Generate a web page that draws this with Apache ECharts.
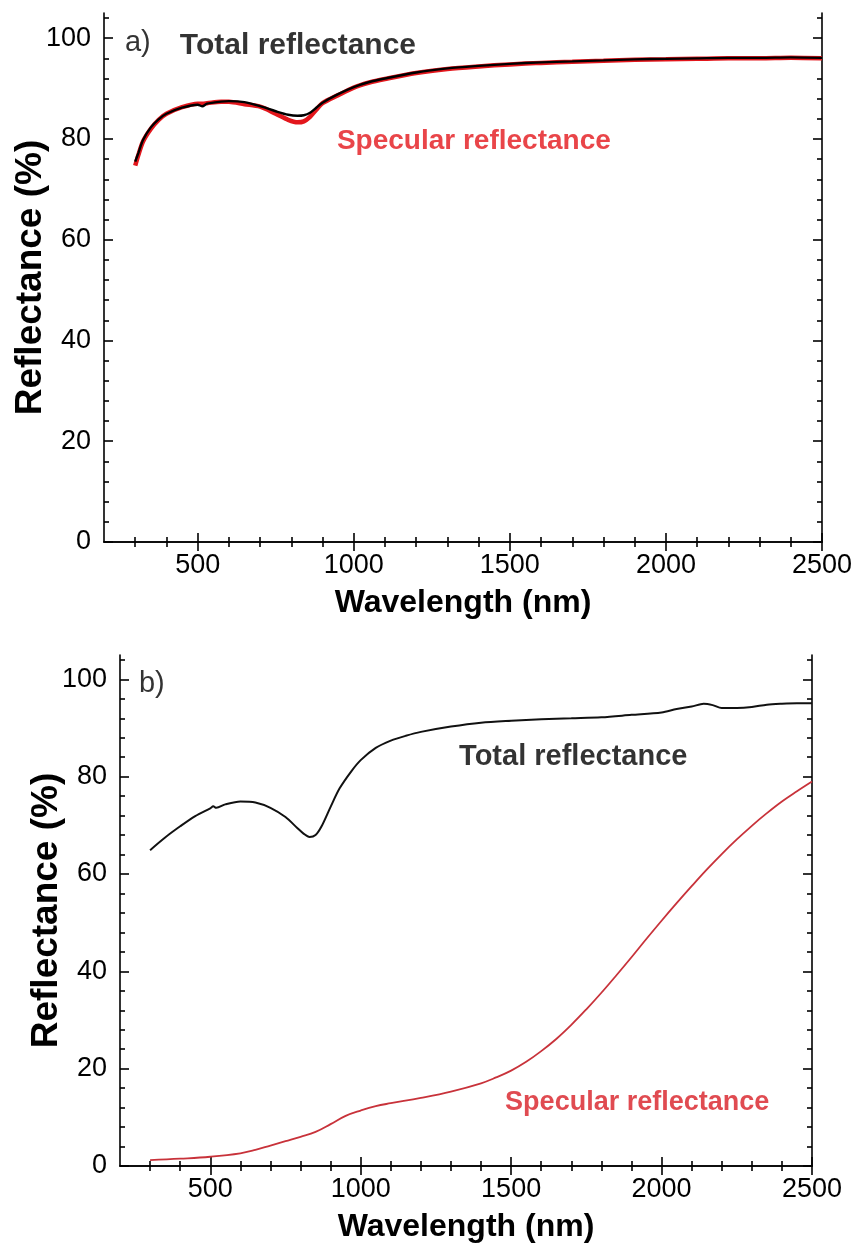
<!DOCTYPE html>
<html><head><meta charset="utf-8">
<script src="https://cdn.jsdelivr.net/npm/echarts@6/dist/echarts.min.js"></script>
<style>html,body{margin:0;padding:0;background:#fff}#c{width:857px;height:1243px}</style>
</head><body><div id="c"></div><script>
// ---- tick values ----
const xMajorTicks = [500, 1000, 1500, 2000, 2500];
const xMinorTicks = [300, 400, 600, 700, 800, 900, 1100, 1200, 1300, 1400, 1600, 1700, 1800, 1900, 2100, 2200, 2300, 2400];
const yMajorTicks = [0, 20, 40, 60, 80, 100];
const yMinorTicks = [4, 8, 12, 16, 24, 28, 32, 36, 44, 48, 52, 56, 64, 68, 72, 76, 84, 88, 92, 96, 104];

// ---- panel a) ----
const wavelengthA = [300, 310, 325, 350, 375, 400, 450, 500, 515, 530, 575, 600, 650, 700, 750, 790, 820, 840, 860, 880, 900, 950, 1000, 1050, 1100, 1200, 1300, 1400, 1500, 1600, 1700, 1800, 1900, 2000, 2100, 2200, 2300, 2400, 2500];
const totalA = [75.5, 77.2, 79.8, 82.3, 83.9, 85.0, 86.2, 86.8, 86.5, 87.0, 87.4, 87.5, 87.3, 86.5, 85.5, 84.8, 84.6, 84.7, 85.2, 86.2, 87.2, 88.9, 90.3, 91.3, 92.0, 93.2, 94.0, 94.5, 94.9, 95.2, 95.4, 95.6, 95.8, 95.9, 96.0, 96.1, 96.1, 96.2, 96.1];
const specularA = [74.7, 76.8, 79.5, 82.0, 83.8, 85.0, 86.3, 87.0, 87.0, 87.1, 87.4, 87.4, 86.9, 86.4, 85.0, 83.8, 83.3, 83.5, 84.4, 85.8, 87.1, 88.7, 90.2, 91.2, 91.9, 93.1, 93.9, 94.4, 94.8, 95.1, 95.3, 95.5, 95.7, 95.8, 95.9, 96.0, 96.0, 96.1, 96.0];

// ---- panel b) ----
const wavelengthTotalB = [300, 350, 400, 450, 500, 510, 520, 550, 600, 650, 700, 750, 790, 810, 830, 850, 870, 900, 930, 970, 1000, 1050, 1100, 1150, 1200, 1300, 1400, 1500, 1600, 1700, 1800, 1900, 2000, 2050, 2100, 2140, 2170, 2200, 2250, 2300, 2350, 2400, 2450, 2500];
const totalB = [64.9, 67.5, 69.8, 71.9, 73.5, 73.9, 73.6, 74.3, 74.9, 74.7, 73.6, 71.7, 69.4, 68.3, 67.6, 68.0, 69.8, 73.8, 77.6, 81.2, 83.4, 85.9, 87.4, 88.4, 89.2, 90.3, 91.1, 91.5, 91.8, 92.0, 92.2, 92.7, 93.2, 93.9, 94.4, 95.0, 94.7, 94.1, 94.1, 94.3, 94.8, 95.0, 95.1, 95.1];
const wavelengthSpecB = [300, 400, 500, 600, 650, 700, 750, 800, 850, 900, 950, 1000, 1050, 1100, 1200, 1300, 1400, 1450, 1500, 1550, 1600, 1650, 1700, 1750, 1800, 1850, 1900, 1950, 2000, 2050, 2100, 2150, 2200, 2250, 2300, 2350, 2400, 2450, 2500];
const specularB = [1.2, 1.5, 1.9, 2.6, 3.3, 4.2, 5.1, 6.0, 7.0, 8.6, 10.3, 11.4, 12.3, 12.9, 14.0, 15.3, 17.0, 18.2, 19.6, 21.4, 23.6, 26.1, 29.0, 32.2, 35.6, 39.2, 42.9, 46.7, 50.4, 54.0, 57.5, 60.9, 64.1, 67.1, 69.9, 72.5, 74.9, 77.0, 79.0];

const FONT = '"Liberation Sans", Arial, sans-serif';
const INK = '#000';
const zip = (xs, ys) => xs.map((x, i) => [x, ys[i]]);
const plain = v => String(v);

const lineSt = {color: '#000', width: 1.6};
function xAxes(g) {
  const base = {type: 'value', gridIndex: g, min: 200, max: 2500, splitLine: {show: false}};
  return [
    Object.assign({}, base, {position: 'bottom',
      axisLine: {show: true, lineStyle: lineSt},
      axisTick: {show: true, inside: true, length: 9, customValues: xMajorTicks, lineStyle: lineSt},
      axisLabel: {show: true, customValues: xMajorTicks, formatter: plain, margin: 10, fontSize: 27, color: INK, fontFamily: FONT},
      name: 'Wavelength (nm)', nameLocation: 'middle', nameGap: 45,
      nameTextStyle: {fontSize: 32, fontWeight: 'bold', color: INK, fontFamily: FONT}}),
    Object.assign({}, base, {position: 'bottom', axisLine: {show: false},
      axisTick: {show: true, inside: true, length: 5, customValues: xMinorTicks, lineStyle: lineSt},
      axisLabel: {show: false}}),
    Object.assign({}, base, {position: 'top', axisLine: {show: true, lineStyle: lineSt},
      axisTick: {show: true, inside: true, length: 9, customValues: xMajorTicks, lineStyle: lineSt},
      axisLabel: {show: false}}),
    Object.assign({}, base, {position: 'top', axisLine: {show: false},
      axisTick: {show: true, inside: true, length: 5, customValues: xMinorTicks, lineStyle: lineSt},
      axisLabel: {show: false}})
  ];
}
function yAxes(g) {
  const base = {type: 'value', gridIndex: g, min: 0, max: 105, splitLine: {show: false}};
  return [
    Object.assign({}, base, {position: 'left',
      axisLine: {show: true, lineStyle: lineSt},
      axisTick: {show: true, inside: true, length: 9, customValues: yMajorTicks, lineStyle: lineSt},
      axisLabel: {show: true, customValues: yMajorTicks, formatter: plain, margin: 13, fontSize: 27, color: INK, fontFamily: FONT},
      name: 'Reflectance (%)', nameLocation: 'middle', nameGap: 55, nameRotate: 90, nameMoveOverlap: false,
      nameTextStyle: {fontSize: 37, fontWeight: 'bold', color: INK, fontFamily: FONT}}),
    Object.assign({}, base, {position: 'left', axisLine: {show: false},
      axisTick: {show: true, inside: true, length: 5, customValues: yMinorTicks, lineStyle: lineSt},
      axisLabel: {show: false}}),
    Object.assign({}, base, {position: 'right', axisLine: {show: true, lineStyle: lineSt},
      axisTick: {show: true, inside: true, length: 9, customValues: yMajorTicks, lineStyle: lineSt},
      axisLabel: {show: false}}),
    Object.assign({}, base, {position: 'right', axisLine: {show: false},
      axisTick: {show: true, inside: true, length: 5, customValues: yMinorTicks, lineStyle: lineSt},
      axisLabel: {show: false}})
  ];
}
function note(xi, yi, x, y, text, size, color, bold) {
  return {type: 'scatter', xAxisIndex: xi, yAxisIndex: yi, silent: true, symbolSize: 0.01,
    data: [[x, y]], z: 10,
    label: {show: true, position: 'inside', formatter: text, align: 'left', verticalAlign: 'middle',
      fontSize: size, color: color, fontWeight: bold ? 'bold' : 'normal', fontFamily: FONT}};
}

const chart = echarts.init(document.getElementById('c'), null, {renderer: 'canvas'});
chart.setOption({
  animation: false,
  backgroundColor: '#fff',
  grid: [
    {left: 104, top: 13, right: 35, bottom: 701, outerBoundsMode: 'none', containLabel: false},
    {left: 120, top: 655, right: 45, bottom: 77, outerBoundsMode: 'none', containLabel: false}
  ],
  xAxis: xAxes(0).concat(xAxes(1)),
  yAxis: yAxes(0).concat(yAxes(1)),
  series: [
    {type: 'line', name: 'Specular a', xAxisIndex: 0, yAxisIndex: 0, data: zip(wavelengthA, specularA),
      showSymbol: false, smooth: 0.3, lineStyle: {color: '#e3161c', width: 4.5}, z: 2},
    {type: 'line', name: 'Total a', xAxisIndex: 0, yAxisIndex: 0, data: zip(wavelengthA, totalA),
      showSymbol: false, smooth: 0.3, lineStyle: {color: '#000', width: 2.4}, z: 3},
    {type: 'line', name: 'Total b', xAxisIndex: 4, yAxisIndex: 4, data: zip(wavelengthTotalB, totalB),
      showSymbol: false, smooth: 0.3, lineStyle: {color: '#111', width: 2}, z: 3},
    {type: 'line', name: 'Specular b', xAxisIndex: 4, yAxisIndex: 4, data: zip(wavelengthSpecB, specularB),
      showSymbol: false, smooth: 0.4, lineStyle: {color: '#c8323a', width: 1.8}, z: 3},
    note(0, 0, 267, 99.0, 'a)', 29, INK, false),
    note(0, 0, 443, 98.6, 'Total reflectance', 30, INK, true),
    note(0, 0, 946, 79.5, 'Specular reflectance', 28, '#e3161c', true),
    note(4, 4, 263, 99.0, 'b)', 29, INK, false),
    note(4, 4, 1327, 84.0, 'Total reflectance', 29, INK, true),
    note(4, 4, 1480, 13.1, 'Specular reflectance', 27, '#d81e26', true)
  ]
});
</script></body></html>
